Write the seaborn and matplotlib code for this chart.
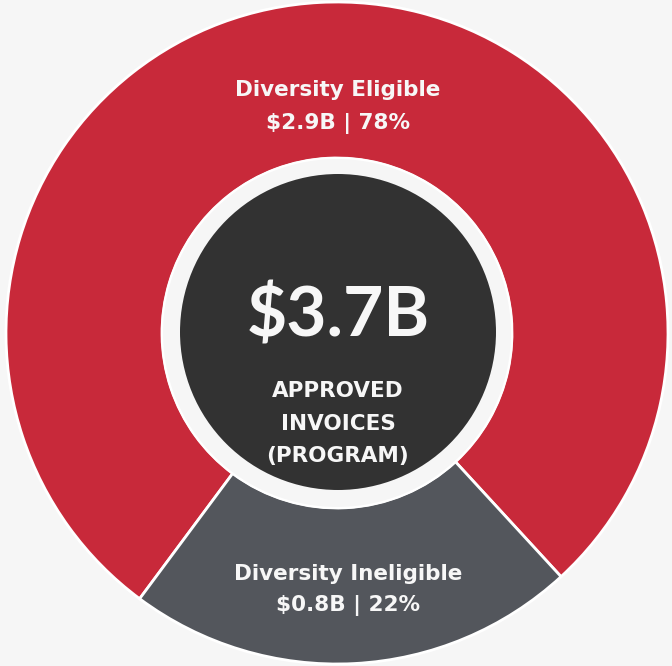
import matplotlib
matplotlib.use("Agg")
import matplotlib.pyplot as plt
import seaborn as sns
from matplotlib.patches import Circle

# data
categories = ["Diversity Eligible", "Diversity Ineligible"]
amounts = [2.9, 0.8]          # $B
percents = [78, 22]
total_label = "$3.7B"
center_caption = ["APPROVED", "INVOICES", "(PROGRAM)"]

colors = ["#c8293a", "#53565c"]
bg = "#f6f6f6"
dark = "#323232"

sns.set_theme(style="white")
plt.rcParams['font.family'] = ['DejaVu Sans']

fig = plt.figure(figsize=(6.72, 6.66), dpi=100, facecolor=bg)
ax = fig.add_axes([0, 0, 1, 1])
ax.set_facecolor(bg)

# pixel-like coordinates, y up
cx, cy = 337, 333
r_out, r_in = 331, 175

ax.pie(percents, colors=colors, startangle=-47.4, counterclock=True,
       radius=r_out, center=(cx, cy),
       wedgeprops=dict(width=r_out - r_in, edgecolor="white", linewidth=2))

# light ring + dark centre
ax.add_patch(Circle((cx, cy), r_in, facecolor=bg, edgecolor="white", lw=1.5, zorder=3))
ax.add_patch(Circle((cx + 1, cy + 1), 158, facecolor=dark, edgecolor="none", zorder=4))

ax.set_xlim(0, 672)
ax.set_ylim(0, 666)
ax.set_aspect("equal")
ax.axis("off")

txt = dict(color="#f7f7f7", ha="center", va="center", zorder=5)

# segment labels
ax.text(338, 666 - 90, categories[0], fontsize=15.5, fontweight="bold", **txt)
ax.text(338, 666 - 124, f"${amounts[0]}B | {percents[0]}%", fontsize=15.5, fontweight="bold", **txt)
ax.text(348, 666 - 574, categories[1], fontsize=15.5, fontweight="bold", **txt)
ax.text(348, 666 - 606, f"${amounts[1]}B | {percents[1]}%", fontsize=15.5, fontweight="bold", **txt)

# centre text
ax.text(338, 666 - 316, total_label, fontsize=50, fontweight="bold",
        family=['Lato', 'DejaVu Sans'], **txt)
for i, line in enumerate(center_caption):
    ax.text(338, 666 - (391 + 32.5 * i), line, fontsize=15.5, fontweight="bold", **txt)

fig.savefig("out.png", dpi=100, facecolor=bg)
